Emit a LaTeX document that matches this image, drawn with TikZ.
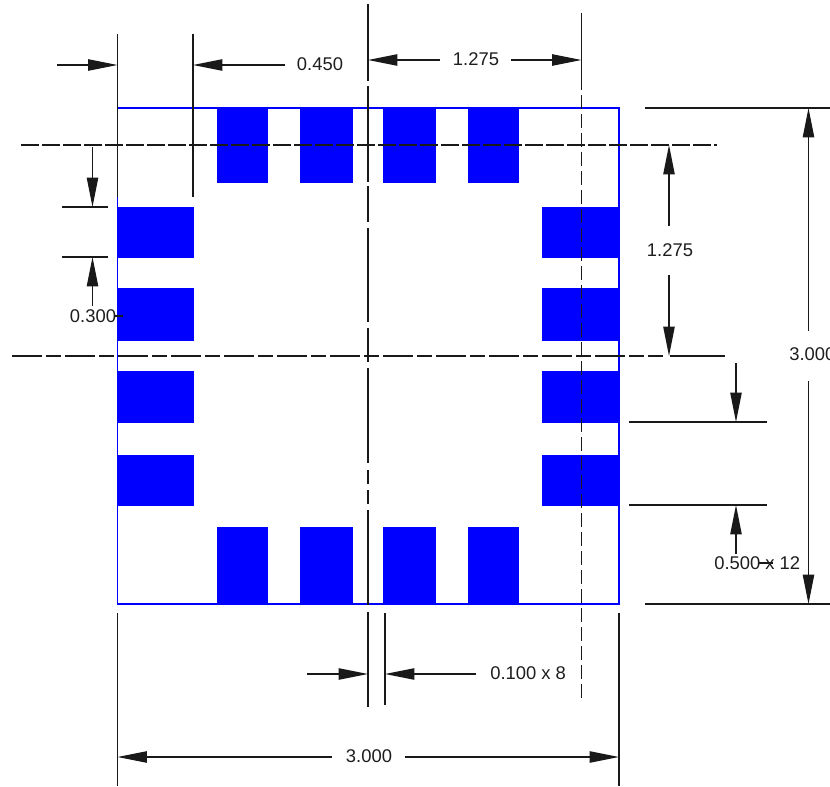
\documentclass[tikz,border=0pt]{standalone}
\usepackage{fontspec}
\setmainfont{Liberation Sans}
\usetikzlibrary{arrows.meta}
\definecolor{padblue}{RGB}{0,0,255}
\definecolor{inkgray}{RGB}{30,30,30}
\tikzset{
  pad/.style={fill=padblue,draw=none},
  outline/.style={draw=padblue,line width=0.95pt},
  ln/.style={draw=black!90,line width=0.95pt},
  dimarrow/.style={ln,-{Triangle[length=22pt,width=8.5pt]}},
  lbl/.style={inner sep=0pt,text=inkgray,font=\fontsize{13.8pt}{15pt}\selectfont},
  dashln/.style={ln,dash pattern=on 17.5*0.75pt off 3.5*0.75pt},
  vdashln/.style={ln,dash pattern=on 14*0.75pt off 5*0.75pt}
}
\begin{document}
\begin{tikzpicture}[x=0.75pt,y=-0.75pt]
\clip (0,0) rectangle (830,787);
\fill[white] (0,0) rectangle (830,787);
% pads
\foreach \a/\b in {217/268,300/353,383/436,468/519}{
  \fill[pad] (\a,108) rectangle (\b,183);
  \fill[pad] (\a,527) rectangle (\b,604);
}
\foreach \a/\b in {207/258,288/341,371/423,454.5/506}{
  \fill[pad] (117,\a) rectangle (194,\b);
  \fill[pad] (542,\a) rectangle (619,\b);
}
\draw[outline] (117.5,108) rectangle (619,604);
% extension lines
\draw[ln] (117.5,34) -- (117.5,197);
\draw[ln] (193,34) -- (193,197);
\draw[ln] (62,207) -- (108,207);
\draw[ln] (62,257) -- (108,257);
\draw[ln] (645,108) -- (830,108);
\draw[ln] (645,604) -- (830,604);
\draw[ln] (629,422) -- (767,422);
\draw[ln] (629,505) -- (767,505);
\draw[ln] (117.5,613) -- (117.5,786);
\draw[ln] (619,613) -- (619,786);
\draw[ln] (385,613) -- (385,705);
% centre line, vertical
\foreach \a/\b in {4/81,86/182,186/222,228/322,328/362,368/463,470/484,490/504,510/605,612/707}{
  \draw[ln] (368,\a) -- (368,\b);
}
% right dashed vertical
\draw[ln] (581.5,13) -- (581.5,90);
\draw[vdashln] (581.5,95) -- (581.5,699);
% horizontal dashed
\draw[dashln] (21,145) -- (717,145);
% horizontal dash-dot
\draw[ln,dash pattern=on 30*0.75pt off 4*0.75pt on 15*0.75pt off 4*0.75pt] (12,356) -- (663,356);
\draw[ln] (670,356) -- (725,356);
% dimension arrows
\draw[dimarrow] (57,65) -- (117.5,65);
\draw[dimarrow] (285,65) -- (193,65);
\draw[dimarrow] (440,60) -- (368,60);
\draw[dimarrow] (511,60) -- (581.5,60);
\draw[dimarrow] (92.5,147) -- (92.5,207);
\draw[dimarrow] (92.5,306) -- (92.5,257);
\draw[ln] (115,316) -- (123,316);
\draw[dimarrow] (669,226) -- (669,145);
\draw[dimarrow] (669,275) -- (669,356);
\draw[dimarrow] (808.5,331) -- (808.5,108);
\draw[dimarrow] (808.5,381) -- (808.5,604);
\draw[dimarrow] (736,363) -- (736,422);
\draw[dimarrow] (736,554) -- (736,505);
\draw[ln] (758,563) -- (773,563);
\draw[dimarrow] (307,674) -- (368,674);
\draw[dimarrow] (476,674) -- (385,674);
\draw[dimarrow] (332,757) -- (117.5,757);
\draw[dimarrow] (405,757) -- (619,757);
% labels
\node[lbl] (t450) at (320,64) {0.450};
\node[lbl] (t1275a) at (476,59) {1.275};
\node[lbl] (t300) at (93,316) {0.300};
\node[lbl] (t1275b) at (670,250) {1.275};
\node[lbl,anchor=west] (t3000r) at (789,354) {3.000};
\node[lbl,anchor=west] (t500) at (714,563) {0.500 x 12};
\node[lbl,anchor=west] (t100) at (490,673) {0.100 x 8};
\node[lbl] (t3000b) at (369,756) {3.000};
\end{tikzpicture}
\end{document}
